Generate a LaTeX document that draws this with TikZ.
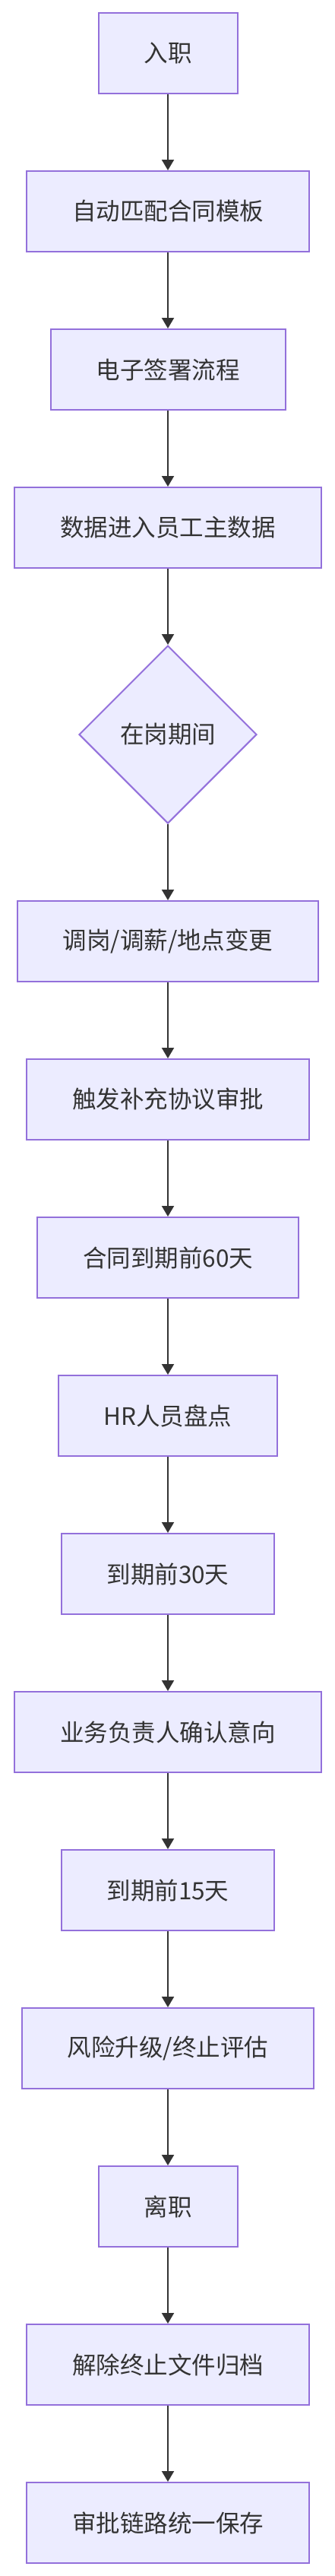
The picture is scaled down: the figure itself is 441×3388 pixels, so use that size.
\documentclass[tikz,border=0pt]{standalone}
\usepackage{fontspec}
\newfontfamily\cjk{Noto Sans CJK SC}
\usetikzlibrary{positioning,shapes.geometric,arrows.meta}

\definecolor{mfill}{HTML}{ECECFF}
\definecolor{mline}{HTML}{9370DB}
\definecolor{mtext}{HTML}{333333}
\tikzset{
  mbox/.style={draw=mline,fill=mfill,line width=2pt,text=mtext,
    minimum height=106pt,inner xsep=60pt,inner ysep=0pt,
    font=\cjk\fontsize{31.5}{38}\selectfont},
  mdia/.style={mbox,diamond,aspect=1,minimum width=234pt,minimum height=234pt,inner sep=0pt},
  flow/.style={draw=mtext,line width=2pt,-{Triangle[length=14pt,width=16pt]}}
}

\begin{document}
\begin{tikzpicture}[x=1pt,y=1pt,node distance=100pt]
    \useasboundingbox (0,0) rectangle (441,-3388);
    \node[mbox] (onboard) at (221,-70) {入职};
    \node[mbox,below=of onboard] (tmpl) {自动匹配合同模板};
    \node[mbox,below=of tmpl] (esign) {电子签署流程};
    \node[mbox,below=of esign] (master) {数据进入员工主数据};
    \node[mdia,below=of master] (onjob) {在岗期间};
    \node[mbox,below=of onjob] (change) {调岗/调薪/地点变更};
    \node[mbox,below=of change] (suppl) {触发补充协议审批};
    \node[mbox,below=of suppl] (d60) {合同到期前60天};
    \node[mbox,below=of d60] (hrcheck) {HR人员盘点};
    \node[mbox,below=of hrcheck] (d30) {到期前30天};
    \node[mbox,below=of d30] (intent) {业务负责人确认意向};
    \node[mbox,below=of intent] (d15) {到期前15天};
    \node[mbox,below=of d15] (risk) {风险升级/终止评估};
    \node[mbox,below=of risk] (leave) {离职};
    \node[mbox,below=of leave] (archive) {解除终止文件归档};
    \node[mbox,below=of archive] (chain) {审批链路统一保存};
    \foreach \a/\b in {onboard/tmpl,tmpl/esign,esign/master,master/onjob,
      onjob/change,change/suppl,suppl/d60,d60/hrcheck,hrcheck/d30,d30/intent,
      intent/d15,d15/risk,risk/leave,leave/archive,archive/chain}
      \draw[flow] (\a) -- (\b);
  \end{tikzpicture}
\end{document}
